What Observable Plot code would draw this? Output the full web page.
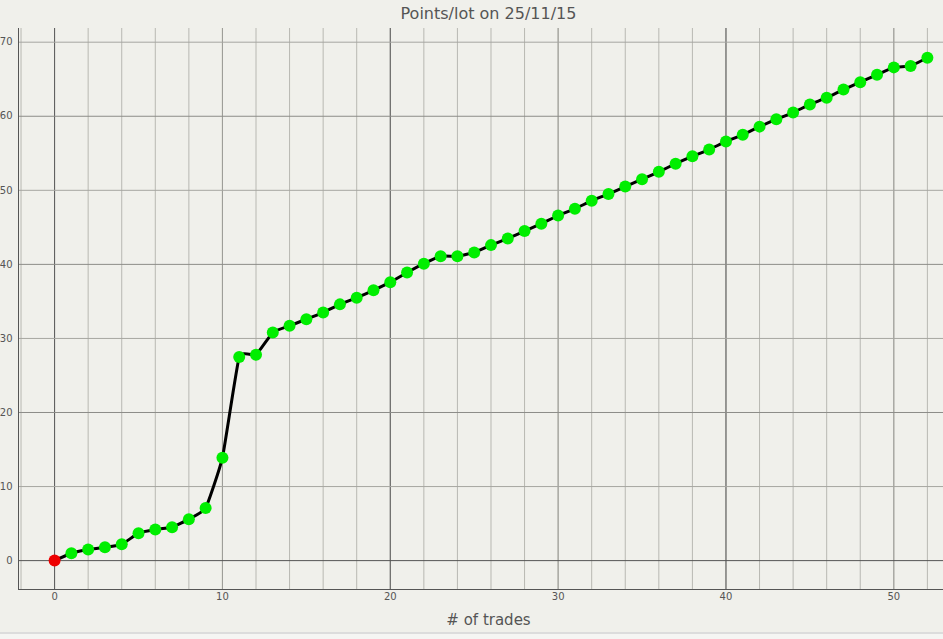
<!DOCTYPE html>
<html>
<head>
<meta charset="utf-8">
<script src="https://cdn.jsdelivr.net/npm/d3@7"></script>
<script src="https://cdn.jsdelivr.net/npm/@observablehq/plot@0.6"></script>
<style>
  body { margin: 0; background: #f0f0eb; font-family: "DejaVu Sans", sans-serif; overflow: hidden; }
  #title { height: 28px; line-height: 28px; font-size: 16px; color: #555; text-align: center; padding-left: 34px; width: 909px; }
  #chart svg { display: block; }
  #xlabel { margin-top: 5px; height: 22px; line-height: 22px; font-size: 15px; color: #555; text-align: center; padding-left: 34px; width: 909px; }
  #strip { margin-top: 1px; height: 10px; border-top: 2px solid #dcdcdc; background: #f5f5f3; }
</style>
</head>
<body>
<div id="title">Points/lot on 25/11/15</div>
<div id="chart"></div>
<div id="xlabel"># of trades</div>
<div id="strip"></div>
<script>
// points per lot after each trade
const trades = d3.range(0, 53)
const points = [
  0, 1.0, 1.5, 1.8, 2.2, 3.7, 4.2, 4.5, 5.6, 7.1,
  13.9, 27.5, 27.8, 30.8, 31.7, 32.6, 33.5, 34.6, 35.5, 36.5,
  37.6, 38.9, 40.1, 41.1, 41.1, 41.6, 42.6, 43.5, 44.5, 45.5,
  46.6, 47.5, 48.6, 49.5, 50.5, 51.5, 52.5, 53.6, 54.6, 55.5,
  56.6, 57.5, 58.6, 59.6, 60.5, 61.6, 62.5, 63.6, 64.6, 65.6,
  66.6, 66.8, 67.9
]
const xTicks = [0, 10, 20, 30, 40, 50]
const yTicks = [0, 10, 20, 30, 40, 50, 60, 70]

const data = trades.map((t, i) => ({trade: t, pts: points[i]}))

let chart = Plot.plot({
  width: 943,
  height: 576,
  marginLeft: 18,
  marginRight: 0,
  marginTop: 0,
  marginBottom: 15,
  style: {background: 'transparent', fontFamily: 'DejaVu Sans', fontSize: '10px', color: '#555'},
  x: {domain: [-2.15, 52.96]},
  y: {domain: [-3.9, 71.85]},
  marks: [
    Plot.gridX(d3.range(-2, 53, 2), {stroke: '#b8b8b2', strokeOpacity: 1}),
    Plot.gridX([10, 30, 50], {stroke: '#9c9c97', strokeOpacity: 1}),
    Plot.gridX([0, 20, 40], {stroke: '#5a5a5a', strokeOpacity: 1}),
    Plot.gridY([10, 30, 50, 70], {stroke: '#a6a6a1', strokeOpacity: 1}),
    Plot.gridY([20, 40, 60], {stroke: '#8c8c88', strokeOpacity: 1}),
    Plot.gridY([0], {stroke: '#555', strokeOpacity: 1}),
    Plot.frame({anchor: 'left', stroke: '#555'}),
    Plot.frame({anchor: 'bottom', stroke: '#555'}),
    Plot.axisX(xTicks, {tickSize: 0, tickPadding: 3, label: null}),
    Plot.axisY(yTicks, {tickSize: 0, tickPadding: 6, label: null}),
    Plot.line(data, {x: 'trade', y: 'pts', stroke: 'black', strokeWidth: 3, curve: 'cardinal', tension: 0.6}),
    Plot.dot(data.slice(1), {x: 'trade', y: 'pts', r: 6, fill: '#00ee00'}),
    Plot.dot(data.slice(0, 1), {x: 'trade', y: 'pts', r: 6, fill: '#ee0000'}),
  ],
})
d3.select('#chart').append(() => chart)
</script>
</body>
</html>
